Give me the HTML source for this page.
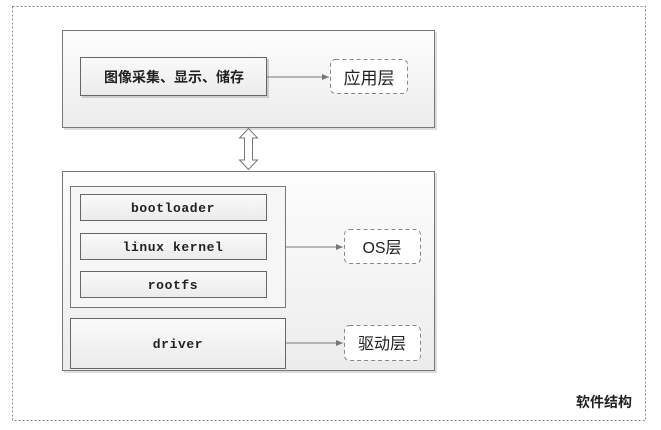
<!DOCTYPE html>
<html><head><meta charset="utf-8"><style>
html,body{margin:0;padding:0;background:#fff;}
svg{display:block;}
.cn{font-family:"Liberation Sans","Noto Sans CJK SC",sans-serif;}
.mono{font-family:"Liberation Mono","DejaVu Sans Mono",monospace;font-weight:bold;letter-spacing:0.6px;}
</style></head><body>
<svg width="661" height="430" viewBox="0 0 661 430" xmlns="http://www.w3.org/2000/svg">
<defs>
<linearGradient id="g" x1="0" y1="0" x2="0" y2="1"><stop offset="0" stop-color="#fdfdfd"/><stop offset="1" stop-color="#ececec"/></linearGradient>
<linearGradient id="g2" x1="0" y1="0" x2="0" y2="1"><stop offset="0" stop-color="#fafafa"/><stop offset="1" stop-color="#ebebeb"/></linearGradient>
<marker id="ar" markerWidth="8" markerHeight="8" refX="7" refY="4" orient="auto" markerUnits="userSpaceOnUse"><path d="M0,1 L7,4 L0,7 z" fill="#777"/></marker>
</defs>
<rect x="12.5" y="6.5" width="633" height="414" fill="none" stroke="#888" stroke-dasharray="2,2"/>
<rect x="64" y="32" width="373" height="98" fill="#ddd"/>
<rect x="62.5" y="30.5" width="372" height="97" fill="url(#g)" stroke="#777"/>
<rect x="82" y="59" width="187" height="39" fill="#ccc"/>
<rect x="80.5" y="57.5" width="186" height="38" fill="url(#g2)" stroke="#666"/>
<text x="174" y="82" text-anchor="middle" class="cn" font-size="14" font-weight="bold" fill="#222">图像采集、显示、储存</text>
<line x1="267" y1="77" x2="329" y2="77" stroke="#777" marker-end="url(#ar)"/>
<rect x="330.5" y="59.5" width="77" height="34" rx="5" fill="#fff" stroke="#888" stroke-dasharray="4,3"/>
<text x="369" y="84" text-anchor="middle" class="cn" font-size="17" fill="#222">应用层</text>
<path d="M248.5,128.5 L257.5,138 L252.5,138 L252.5,160 L257.5,160 L248.5,169.5 L239.5,160 L244.5,160 L244.5,138 L239.5,138 Z" fill="#fff" stroke="#777"/>
<rect x="64" y="173" width="373" height="200" fill="#ddd"/>
<rect x="62.5" y="171.5" width="372" height="199" fill="url(#g)" stroke="#777"/>
<rect x="70.5" y="186.5" width="215" height="121" fill="#f6f6f6" stroke="#777"/>
<g class="mono" font-size="13" fill="#222" text-anchor="middle">
<rect x="80.5" y="194.5" width="186" height="26" fill="url(#g2)" stroke="#666"/>
<text x="173" y="212">bootloader</text>
<rect x="80.5" y="233.5" width="186" height="26" fill="url(#g2)" stroke="#666"/>
<text x="173" y="251">linux kernel</text>
<rect x="80.5" y="271.5" width="186" height="26" fill="url(#g2)" stroke="#666"/>
<text x="173" y="289">rootfs</text>
<rect x="70.5" y="318.5" width="215" height="50" fill="url(#g2)" stroke="#666"/>
<text x="178" y="348">driver</text>
</g>
<line x1="286" y1="247" x2="343" y2="247" stroke="#777" marker-end="url(#ar)"/>
<rect x="344.5" y="229.5" width="76" height="34" rx="5" fill="#fff" stroke="#888" stroke-dasharray="4,3"/>
<text x="382" y="253" text-anchor="middle" class="cn" font-size="16" fill="#222">OS层</text>
<line x1="286" y1="343" x2="343" y2="343" stroke="#777" marker-end="url(#ar)"/>
<rect x="344.5" y="325.5" width="76" height="35" rx="5" fill="#fff" stroke="#888" stroke-dasharray="4,3"/>
<text x="382" y="349" text-anchor="middle" class="cn" font-size="16" fill="#222">驱动层</text>
<text x="604" y="407" text-anchor="middle" class="cn" font-size="14" font-weight="bold" fill="#222">软件结构</text>
</svg>
</body></html>
